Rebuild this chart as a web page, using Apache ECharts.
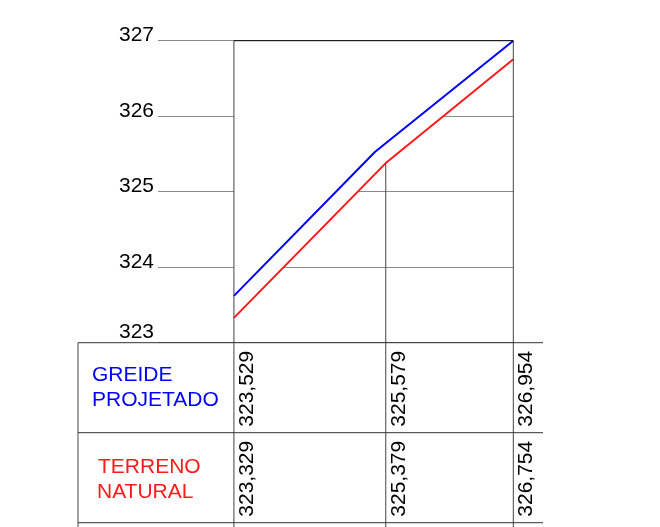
<!DOCTYPE html>
<html><head><meta charset="utf-8">
<script src="https://cdn.jsdelivr.net/npm/echarts@6/dist/echarts.min.js"></script>
<style>html,body{margin:0;padding:0;background:#fff}#c{width:660px;height:527px}</style>
</head><body><div id="c"></div>
<script>
const stations = [0, 20, 36.8];
const greideValues = [323.529, 325.579, 326.954];
const terrenoValues = [323.329, 325.379, 326.754];
const greideTraceStations = [0, 18.6, 36.8];
const greideTrace = [323.62, 325.53, 327.0];
const yTicks = [323, 324, 325, 326, 327];
const rowLabels = [['GREIDE', 'PROJETADO'], ['TERRENO', 'NATURAL']];
const FONT = '"Liberation Sans", Arial, sans-serif';

const terrenoData = stations.map((s, i) => [s, terrenoValues[i]]);
// white cover above the terrain line (several layers so grid lines are fully hidden)
const coverSeries = [0, 1, 2, 3].map(k => ({
  type: 'line', data: terrenoData, symbol: 'none', silent: true,
  lineStyle: {width: 0, opacity: 0},
  areaStyle: {color: '#ffffff', opacity: 1, origin: 'end'}, z: 10 + k
}));

const chart = echarts.init(document.getElementById('c'), null, {renderer: 'canvas'});
chart.setOption({
  animation: false,
  grid: {left: 158, right: 146.7, top: 40.7, bottom: 184.3},
  xAxis: {type: 'value', min: -10, max: 36.8, show: false},
  yAxis: {
    type: 'value', min: yTicks[0], max: yTicks[yTicks.length - 1], interval: 1,
    axisLine: {show: false}, axisTick: {show: false},
    splitLine: {lineStyle: {color: '#8a8a8a', width: 1}},
    axisLabel: {
      margin: 4, color: '#000', fontFamily: FONT, fontSize: 21,
      formatter: v => v === yTicks[0] ? '{b|' + v + '}' : '{a|' + v + '}',
      rich: {
        a: {fontSize: 21, fontFamily: FONT, color: '#000', padding: [0, 0, 10, 0]},
        b: {fontSize: 21, fontFamily: FONT, color: '#000', padding: [0, 0, 20, 0]}
      }
    }
  },
  series: coverSeries.concat([
    {type: 'line', data: terrenoData, symbol: 'none',
      lineStyle: {color: '#ff1a1a', width: 2}, z: 20},
    {type: 'line', data: greideTraceStations.map((s, i) => [s, greideTrace[i]]), symbol: 'none',
      lineStyle: {color: '#0000ff', width: 2}, z: 21}
  ])
});

const px = (x, y) => chart.convertToPixel({gridIndex: 0}, [x, y]);
const yMax = yTicks[yTicks.length - 1];
const tableTop = px(0, yTicks[0])[1];
const rowH = 90;
const tableLeft = 78, tableRight = 543, pageBottom = 527;
const els = [];
function line(x1, y1, x2, y2, c) {
  els.push({type: 'line', z: 100, shape: {x1, y1, x2, y2}, style: {stroke: c || '#333', lineWidth: 1}});
}
function text(x, y, t, c, rot) {
  els.push({type: 'text', z: 101, x, y, rotation: rot || 0,
    style: {text: t, fontSize: 21, fontFamily: FONT, fill: c, align: 'left', verticalAlign: 'middle'}});
}
const pL = px(stations[0], yMax), pR = px(stations[stations.length - 1], yMax);
line(pL[0], pL[1], pR[0], pR[1], '#000');
stations.forEach((s, i) => {
  const yTop = (i === 0 || i === stations.length - 1) ? px(s, yMax)[1] : px(s, terrenoValues[i])[1];
  const x = px(s, yMax)[0];
  line(x, yTop, x, pageBottom, '#444');
});
for (let r = 0; r <= 2; r++) line(tableLeft, tableTop + r * rowH, tableRight, tableTop + r * rowH, '#333');
line(tableLeft, tableTop, tableLeft, pageBottom, '#444');
text(92, tableTop + 33, rowLabels[0][0], '#0000ff');
text(92, tableTop + 58, rowLabels[0][1], '#0000ff');
text(98, tableTop + 125, rowLabels[1][0], '#ff1a1a');
text(97, tableTop + 150, rowLabels[1][1], '#ff1a1a');
const fmt = v => v.toFixed(3).replace('.', ',');
stations.forEach((s, i) => {
  const x = px(s, yMax)[0] + 13;
  text(x, tableTop + 84, fmt(greideValues[i]), '#000', Math.PI / 2);
  text(x, tableTop + 84 + rowH, fmt(terrenoValues[i]), '#000', Math.PI / 2);
});
chart.setOption({graphic: {elements: els}});
</script></body></html>
